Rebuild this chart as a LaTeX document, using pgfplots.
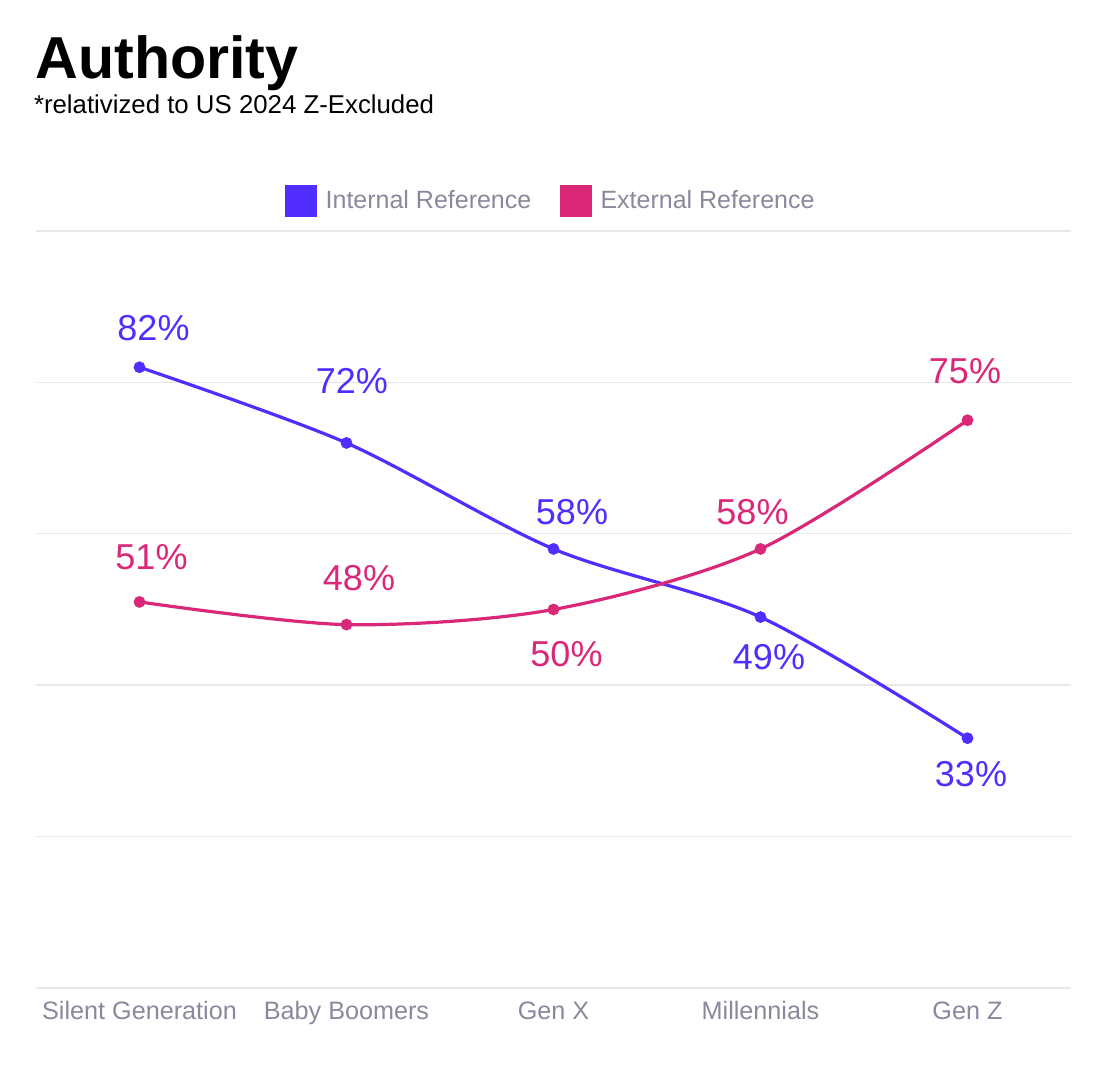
\documentclass[border=0pt]{standalone}
\usepackage{pgfplots}
\pgfplotsset{compat=1.18}
\usepackage{pgfplotstable}
\usepackage{fontspec}
\setmainfont{Liberation Sans}
\definecolor{intcol}{RGB}{81,45,255}
\definecolor{extcol}{RGB}{219,39,119}
\definecolor{txtgray}{RGB}{138,136,156}
\definecolor{gridcol}{RGB}{232,232,234}
\definecolor{axcol}{RGB}{200,200,210}

\pgfplotstableread{
x y dx dy
0 82 7.0 19.75
1 72 2.65 30.75
2 58 9.25 18.25
3 49 4.25 -20.0
4 33 1.75 -18.0
}\internal
\pgfplotstableread{
x y dx dy
0 51 6.0 22.5
1 48 6.25 23.5
2 50 6.5 -22.5
3 58 -4.0 18.25
4 75 -1.25 24.5
}\external

\begin{document}
\begin{tikzpicture}
\useasboundingbox (0,0) rectangle (557pt,535.5pt);
\node[anchor=base west, inner sep=0pt, font=\bfseries\fontsize{29.6}{36}\selectfont] at (17.5pt,496.3pt) {Authority};
\node[anchor=base west, inner sep=0pt, font=\fontsize{12.9}{15}\selectfont] at (16.8pt,478.5pt) {*relativized to US 2024 Z-Excluded};
\begin{axis}[
  at={(18pt,41.5pt)}, anchor=south west,
  scale only axis, width=517.5pt, height=378.5pt,
  xmin=-0.5, xmax=4.5, ymin=0, ymax=100,
  enlargelimits=false, clip=false,
  axis line style={draw=none},
  tick style={draw=none},
  xtick={0,1,2,3,4},
  xticklabels={Silent Generation, Baby Boomers, Gen X, Millennials, Gen Z},
  xticklabel style={font=\fontsize{12.6}{15}\selectfont, text=txtgray, inner sep=0pt, anchor=base, yshift=-16pt},
  ytick={20,40,60,80,100},
  yticklabels={},
  ymajorgrids,
  major grid style={color=gridcol, line width=0.7pt},
  extra y ticks={0},
  extra y tick labels={},
  extra y tick style={grid style={color=axcol, line width=0.7pt}},
  /pgf/number format/assume math mode=true,
  legend columns=-1,
  legend style={at={(0.5,1)}, anchor=center, yshift=15pt, xshift=-0.75pt, draw=none, fill=none,
    font=\fontsize{12.5}{15}\selectfont, text=txtgray,
    /tikz/every odd column/.append style={column sep=2.5pt},
    /tikz/every even column/.append style={column sep=12.5pt}},
  point meta=y,
  nodes near coords={\pgfmathprintnumber[fixed,precision=0]{\pgfplotspointmeta}\%},
  visualization depends on={\thisrow{dx}\as\ldx},
  visualization depends on={\thisrow{dy}\as\ldy},
]
\addplot[color=intcol, line width=1.6pt, smooth, tension=0.5, mark=*, mark size=2.1pt,
  nodes near coords style={anchor=center, inner sep=0pt, xshift=\ldx pt, yshift=\ldy pt, font=\fontsize{18}{21}\selectfont, text=intcol},
  legend image code/.code={\fill[intcol] (0pt,-7pt) rectangle (14pt,7pt);}]
  table[x=x, y=y] {\internal};
\addlegendentry{Internal Reference}
\addplot[color=extcol, line width=1.6pt, smooth, tension=0.5, mark=*, mark size=2.1pt,
  nodes near coords style={anchor=center, inner sep=0pt, xshift=\ldx pt, yshift=\ldy pt, font=\fontsize{18}{21}\selectfont, text=extcol},
  legend image code/.code={\fill[extcol] (0pt,-7pt) rectangle (14pt,7pt);}]
  table[x=x, y=y] {\external};
\addlegendentry{External Reference}
\end{axis}
\end{tikzpicture}
\end{document}
